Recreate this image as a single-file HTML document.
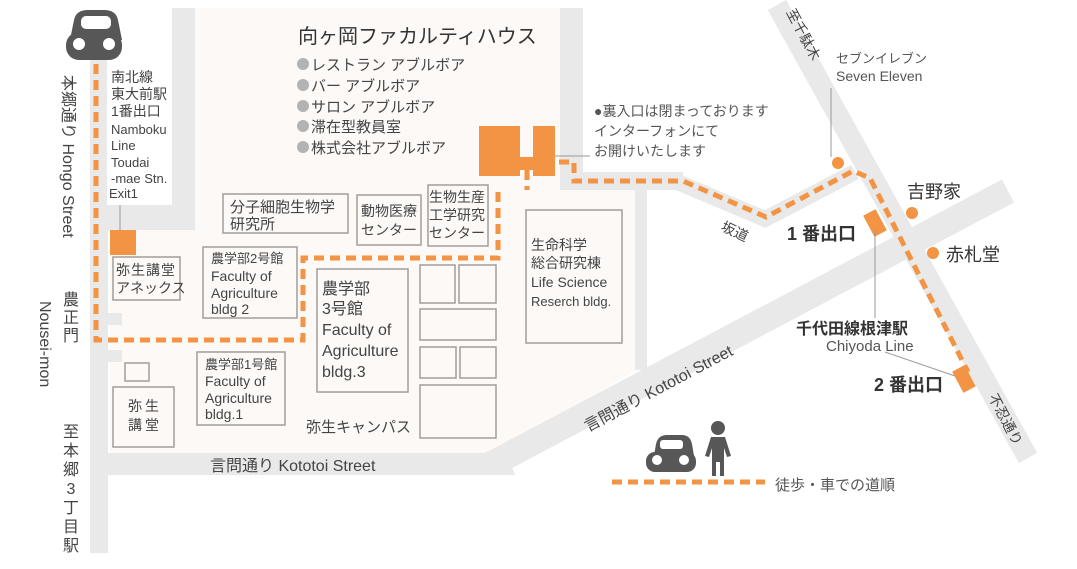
<!DOCTYPE html>
<html><head><meta charset="utf-8"><style>
html,body{margin:0;padding:0;background:#fff;}
svg{display:block;font-family:"Liberation Sans","Noto Sans CJK JP",sans-serif;}
</style></head><body>
<svg width="1077" height="569" viewBox="0 0 1077 569" xmlns="http://www.w3.org/2000/svg">
<polygon points="195,8 560,8 560,190 635,190 635,370 500,453 110,453 110,230 195,230" fill="#fcf9f6"/>
<g fill="#e9e9e9">
<rect x="90" y="60" width="18" height="493"/>
<rect x="172" y="8" width="23" height="222"/>
<rect x="90" y="205" width="105" height="25"/>
<rect x="560" y="8" width="23" height="182"/>
<rect x="560" y="172" width="123" height="18"/>
<rect x="635" y="190" width="12" height="180"/>
<rect x="106" y="453" width="400" height="22"/>
<rect x="106" y="313" width="16" height="12"/>
<rect x="106" y="350" width="16" height="12"/>
</g>
<rect x="107" y="60" width="65" height="145" fill="#fff"/>
<g stroke="#e9e9e9" fill="none">
<line x1="492" y1="464" x2="1008" y2="191" stroke-width="26"/>
<line x1="777" y1="5" x2="1028" y2="458" stroke-width="21"/>
<polyline points="675,181 765,219 855,172" stroke-width="16"/>
</g>
<polygon points="480,453 506,453 515,475 480,475" fill="#e9e9e9"/>
<g fill="none" stroke="#a39e9a" stroke-width="1.5">
<rect x="223" y="194" width="125" height="39"/>
<rect x="357" y="195" width="64" height="50"/>
<rect x="428" y="185" width="60" height="61"/>
<rect x="113" y="257" width="67" height="43"/>
<rect x="203" y="247" width="94" height="71"/>
<rect x="317" y="269" width="91" height="123"/>
<rect x="420" y="265" width="35" height="38"/>
<rect x="459" y="265" width="37" height="38"/>
<rect x="420" y="309" width="76" height="31"/>
<rect x="420" y="347" width="36" height="31"/>
<rect x="460" y="347" width="36" height="31"/>
<rect x="420" y="385" width="76" height="53"/>
<rect x="526" y="210" width="96" height="133"/>
<rect x="197" y="352" width="88" height="73"/>
<rect x="125" y="363" width="24" height="18"/>
<rect x="113" y="387" width="61" height="60"/>
</g>
<g fill="none" stroke="#f29444" stroke-width="5" stroke-dasharray="10,6">
<polyline points="96,64 96,340 303,340 303,258 498,258 498,188"/>
<polyline points="527,170 527,190"/>
<polyline points="559,162 574,162 574,181 683,181 766,217 853,171 870,178 968,372"/>
<line x1="612" y1="482" x2="765" y2="482"/>
</g>
<g fill="#f29444">
<rect x="479" y="126" width="41" height="50"/>
<rect x="519" y="157" width="15" height="13"/>
<rect x="533" y="126" width="22" height="50"/>
<rect x="110" y="230" width="26" height="25"/>
<rect x="868" y="211" width="14" height="24" transform="rotate(-28 875 223)"/>
<rect x="957" y="367" width="14" height="24" transform="rotate(-28 964 379)"/>
<circle cx="838" cy="163" r="6"/>
<circle cx="912" cy="213" r="6"/>
<circle cx="933" cy="253" r="6"/>
</g>
<g stroke="#999" stroke-width="1" fill="none">
<line x1="120" y1="205" x2="120" y2="230"/>
<line x1="555" y1="156" x2="590" y2="156"/>
<line x1="831" y1="88" x2="831" y2="157"/>
<line x1="875" y1="230" x2="875" y2="318"/>
<line x1="885" y1="352" x2="955" y2="376"/>
</g>
<g fill="#575757">
<path d="M70,40 L74,20 Q76,10 88,10 L104,10 Q116,10 118,20 L122,40 Z"/>
<rect x="66" y="32" width="56" height="28" rx="13"/>
<rect x="81" y="16" width="30" height="13" rx="5" fill="#fff"/>
<circle cx="79" cy="44" r="6" fill="#fff"/>
<circle cx="109" cy="44" r="6" fill="#fff"/>
<path d="M653,462 L656,444 Q658,435 667,435 L682,435 Q690,435 692,444 L695,462 Z"/>
<rect x="646" y="452" width="50" height="20" rx="9"/>
<rect x="660" y="440" width="23" height="9" rx="3" fill="#fff"/>
<circle cx="657" cy="460" r="5" fill="#fff"/>
<circle cx="684" cy="460" r="5" fill="#fff"/>
<circle cx="718" cy="428" r="7"/>
<path d="M711,437 L725,437 L731,456 L727,457 L724,448 L724,476 L720,476 L720,462 L716,462 L716,476 L712,476 L712,448 L709,457 L705,456 Z"/>
</g>
<g fill="#333" font-size="20">
<text x="298" y="43">向ヶ岡ファカルティハウス</text>
</g>
<g fill="#444" font-size="15">
<circle cx="303" cy="64" r="6" fill="#b3b3b3"/><text x="311" y="70">レストラン アブルボア</text>
<circle cx="303" cy="85" r="6" fill="#b3b3b3"/><text x="311" y="91">バー アブルボア</text>
<circle cx="303" cy="106" r="6" fill="#b3b3b3"/><text x="311" y="112">サロン アブルボア</text>
<circle cx="303" cy="126" r="6" fill="#b3b3b3"/><text x="311" y="132">滞在型教員室</text>
<circle cx="303" cy="147" r="6" fill="#b3b3b3"/><text x="311" y="153">株式会社アブルボア</text>
</g>
<g fill="#555" font-size="14">
<text x="594" y="116">●裏入口は閉まっております</text>
<text x="594" y="136">インターフォンにて</text>
<text x="594" y="156">お開けいたします</text>
<text x="836" y="63" font-size="13">セブンイレブン</text>
<text x="836" y="81">Seven Eleven</text>
<text x="826" y="351" font-size="15">Chiyoda Line</text>
<text x="775" y="490" font-size="15">徒歩・車での道順</text>
</g>
<g fill="#444" font-size="14">
<text x="111" y="82">南北線</text>
<text x="111" y="99">東大前駅</text>
<text x="111" y="116">1番出口</text>
<text x="111" y="134" font-size="13">Namboku</text>
<text x="111" y="150" font-size="13">Line</text>
<text x="111" y="167" font-size="13">Toudai</text>
<text x="111" y="183" font-size="13">-mae Stn.</text>
<text x="109" y="198" font-size="13">Exit1</text>
<text x="230" y="212" font-size="15">分子細胞生物学</text>
<text x="230" y="229" font-size="15">研究所</text>
<text x="361" y="216">動物医療</text>
<text x="361" y="235">センター</text>
<text x="429" y="202">生物生産</text>
<text x="429" y="220">工学研究</text>
<text x="429" y="238">センター</text>
<text x="116" y="275" letter-spacing="1">弥生講堂</text>
<text x="116" y="293">アネックス</text>
<text x="211" y="263" font-size="13">農学部2号館</text>
<text x="211" y="281">Faculty of</text>
<text x="211" y="298">Agriculture</text>
<text x="211" y="314">bldg 2</text>
<text x="322" y="294" font-size="16">農学部</text>
<text x="322" y="314" font-size="16">3号館</text>
<text x="322" y="335" font-size="16">Faculty of</text>
<text x="322" y="356" font-size="16">Agriculture</text>
<text x="322" y="377" font-size="16">bldg.3</text>
<text x="531" y="250">生命科学</text>
<text x="531" y="268">総合研究棟</text>
<text x="531" y="287">Life Science</text>
<text x="531" y="306" font-size="13">Reserch bldg.</text>
<text x="205" y="369" font-size="13">農学部1号館</text>
<text x="205" y="386">Faculty of</text>
<text x="205" y="403">Agriculture</text>
<text x="205" y="419">bldg.1</text>
<text x="128" y="411" letter-spacing="3">弥生</text>
<text x="128" y="430" letter-spacing="3">講堂</text>
<text x="306" y="432" font-size="15">弥生キャンパス</text>
<text x="210" y="471" font-size="16">言問通り Kototoi Street</text>
<text x="720" y="230" transform="rotate(25 720 230)">坂道</text>
</g>
<g fill="#333" font-size="18">
<text x="907" y="198">吉野家</text>
<text x="946" y="261">赤札堂</text>
<text x="787" y="240" font-weight="bold">1 番出口</text>
<text x="874" y="391" font-weight="bold">2 番出口</text>
<text x="796" y="334" font-size="16" font-weight="bold">千代田線根津駅</text>
</g>
<g fill="#444" font-size="16">
<text transform="translate(63,75) rotate(90)">本郷通り Hongo Street</text>
<text transform="translate(40,301) rotate(90)">Nousei-mon</text>
<text transform="translate(588,432) rotate(-28)">言問通り Kototoi Street</text>
</g>
<g fill="#444" font-size="16" text-anchor="middle">
<text x="71" y="305">農</text><text x="71" y="323">正</text><text x="71" y="341">門</text>
<text x="71" y="437">至</text><text x="71" y="456">本</text><text x="71" y="475">郷</text><text x="71" y="494">3</text><text x="71" y="513">丁</text><text x="71" y="532">目</text><text x="71" y="551">駅</text>
</g>
<g fill="#444" font-size="14">
<text transform="translate(786,12) rotate(62)">至千駄木</text>
<text transform="translate(988,397) rotate(62)">不忍通り</text>
</g>
</svg>
</body></html>
